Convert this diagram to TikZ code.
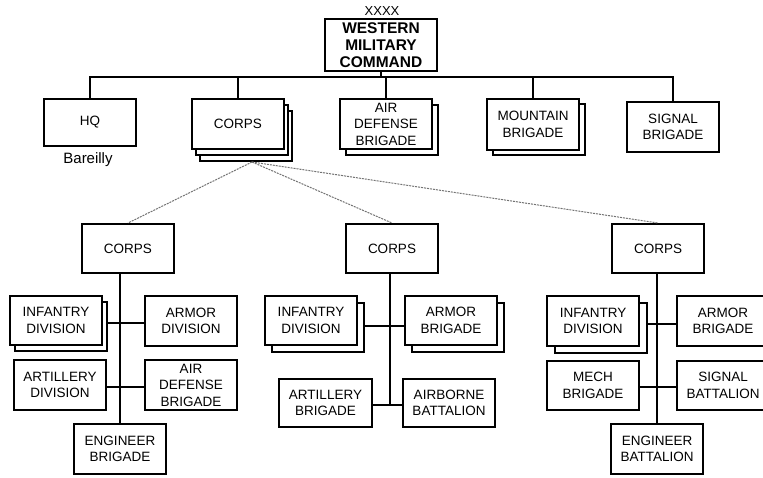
\documentclass[tikz,border=0pt]{standalone}
\usepackage{fontspec}
\setmainfont{Liberation Sans}
\usetikzlibrary{shadows}
\begin{document}
\begin{tikzpicture}[x=1pt,y=-1pt,
  unit/.style={draw=black, fill=white, line width=2pt, align=center, inner sep=0pt,
    minimum width=92pt, minimum height=49pt, font=\fontsize{13.5}{16.5}\selectfont},
  copyback/.style 2 args={general shadow={shadow xshift=#1, shadow yshift=-#2,
    draw=black, fill=white, line width=2pt}},
  link/.style={line width=2pt},
  tie/.style={draw=black!55, line width=1pt, dash pattern=on 2pt off 1pt},
  lbl/.style={inner sep=0pt, font=\fontsize{13}{15}\selectfont}]
\useasboundingbox (0,0) rectangle (763,477);

% command level
\node[unit, minimum width=112pt, minimum height=52pt,
  font=\bfseries\fontsize{15.5}{17}\selectfont] (wmc) at (381,45) {WESTERN\\MILITARY\\COMMAND};
\node[lbl] (xx) at (382,11) {XXXX};

\node[unit, minimum height=47pt] (hq) at (90,122.5) {HQ};
\node[lbl, font=\fontsize{15}{17}\selectfont] (bar) at (88,160) {Bareilly};
\node[unit, minimum height=50pt, copyback={8pt}{12pt}, copyback={4pt}{6pt}] (corps) at (238,124) {CORPS};
\node[unit, minimum height=50pt, copyback={6pt}{6pt}] (adb) at (386,124) {AIR\\DEFENSE\\BRIGADE};
\node[unit, minimum height=51pt, copyback={6pt}{5pt}] (mtn) at (533,124.5) {MOUNTAIN\\BRIGADE};
\node[unit, minimum height=50pt] (sig) at (673,127) {SIGNAL\\BRIGADE};

\coordinate (bus) at (381,77);
\draw[link] (wmc.south) -- (bus);
\draw[link] (hq.north) |- (bus) -| (sig.north);
\foreach \n in {corps,adb,mtn} \draw[link] (\n.north) -- (\n.north |- bus);

% corps detail
\coordinate (hub) at (252,162);
\node[unit] (c1) at (128,248.5) {CORPS};
\node[unit] (c2) at (392,248.5) {CORPS};
\node[unit] (c3) at (658,248.5) {CORPS};
\foreach \n in {c1,c2,c3} \draw[tie] (hub) -- (\n.north);

% first corps
\node[unit, copyback={5pt}{6pt}] (inf1) at (56,320.5) {INFANTRY\\DIVISION};
\node[unit, minimum height=50pt] (arm1) at (191,321) {ARMOR\\DIVISION};
\node[unit, minimum height=50pt] (art1) at (60,385) {ARTILLERY\\DIVISION};
\node[unit, minimum height=50pt] (ad1) at (191,385) {AIR\\DEFENSE\\BRIGADE};
\node[unit, minimum height=50pt] (eng1) at (120,449) {ENGINEER\\BRIGADE};
\coordinate (s1) at ([xshift=5pt]inf1.east);
\coordinate (j1a) at (120,323);
\coordinate (j1b) at (120,387);
\draw[link] (eng1.north) -- (eng1.north |- c1.south);
\draw[link] (j1a -| s1) -- (j1a -| arm1.west);
\draw[link] (j1b -| art1.east) -- (j1b -| ad1.west);

% second corps
\node[unit, copyback={7pt}{7pt}] (inf2) at (311,320.5) {INFANTRY\\DIVISION};
\node[unit, copyback={7pt}{7pt}] (arm2) at (451,320.5) {ARMOR\\BRIGADE};
\node[unit, minimum width=93pt, minimum height=48pt] (art2) at (325.5,403) {ARTILLERY\\BRIGADE};
\node[unit, minimum height=48pt] (abn2) at (449,403) {AIRBORNE\\BATTALION};
\coordinate (s2) at ([xshift=7pt]inf2.east);
\coordinate (j2a) at (390,326);
\coordinate (j2b) at (390,405);
\draw[link] (j2b) -- (j2b |- c2.south);
\draw[link] (j2a -| s2) -- (j2a -| arm2.west);
\draw[link] (j2b -| art2.east) -- (j2b -| abn2.west);

% third corps
\node[unit, minimum height=50pt, copyback={8pt}{7pt}] (inf3) at (593,321) {INFANTRY\\DIVISION};
\node[unit, minimum height=50pt] (arm3) at (723,321) {ARMOR\\BRIGADE};
\node[unit] (mech3) at (593,385.5) {MECH\\BRIGADE};
\node[unit] (sig3) at (723,385.5) {SIGNAL\\BATTALION};
\node[unit, minimum height=50pt] (eng3) at (657,449) {ENGINEER\\BATTALION};
\coordinate (s3) at ([xshift=8pt]inf3.east);
\coordinate (j3a) at (657,324);
\coordinate (j3b) at (657,387);
\draw[link] (eng3.north) -- (eng3.north |- c3.south);
\draw[link] (j3a -| s3) -- (j3a -| arm3.west);
\draw[link] (j3b -| mech3.east) -- (j3b -| sig3.west);
\end{tikzpicture}
\end{document}
